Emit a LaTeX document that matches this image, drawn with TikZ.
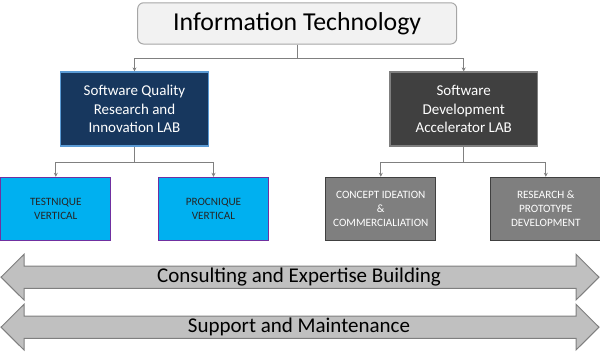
\documentclass[tikz,border=0pt]{standalone}
\usepackage{fontspec}
\setmainfont{Carlito}
\definecolor{ITGray}{HTML}{F2F2F2}
\definecolor{LabNavy}{HTML}{17375E}
\definecolor{LabEdge}{HTML}{5B9BD5}
\definecolor{DevDark}{HTML}{404040}
\definecolor{VertCyan}{HTML}{00B0F0}
\definecolor{VertEdge}{HTML}{7030A0}
\definecolor{UnitGray}{HTML}{7F7F7F}
\definecolor{BandGray}{HTML}{C0C0C0}
\usetikzlibrary{positioning, arrows.meta, calc}

\begin{document}
\begin{tikzpicture}[
  x=1pt, y=-1pt,
  topbox/.style={draw=black!35, line width=1pt, rounded corners=6pt,
    fill=ITGray, minimum width=319pt, minimum height=41.3pt, inner sep=0pt,
    font=\fontsize{25.8}{30}\selectfont},
  labbox/.style={draw, line width=1.2pt, minimum width=147.5pt,
    minimum height=74pt, inner sep=0pt, align=center, text=white,
    font=\fontsize{15}{18.3}\selectfont},
  unitbox/.style={draw, line width=1pt, minimum width=109.7pt,
    minimum height=63pt, inner sep=0pt, align=center,
    font=\fontsize{11.2}{14.3}\selectfont},
  conn/.style={-{Stealth[length=4pt, width=4pt]}, gray, line width=0.8pt},
  band/.style={draw=UnitGray, line width=1pt, fill=BandGray},
  bandtext/.style={font=\fontsize{21}{24}\selectfont, inner sep=0pt},
]
  \useasboundingbox (0,0) rectangle (600,351);

  \node[topbox] (it) at (297.2, 23.4) {Information Technology};

  \node[labbox, draw=LabEdge, fill=LabNavy] (sqr) at (134.5, 109)
    {Software Quality\\Research and\\Innovation LAB};
  \node[labbox, draw=UnitGray, fill=DevDark] (sda) at (463.7, 109)
    {Software\\Development\\Accelerator LAB};

  \node[unitbox, draw=VertEdge, fill=VertCyan, text=black!85] (tv) at (55.8, 208.8)
    {TESTNIQUE\\VERTICAL};
  \node[unitbox, draw=VertEdge, fill=VertCyan, text=black!85, right=47pt of tv] (pv)
    {PROCNIQUE\\VERTICAL};
  \node[unitbox, draw=DevDark, fill=UnitGray, text=white] (ci) at (380.8, 208.8)
    {CONCEPT IDEATION\\\&\\COMMERCIALIATION};
  \node[unitbox, draw=DevDark, fill=UnitGray, text=white, right=54.3pt of ci] (rp)
    {RESEARCH \&\\PROTOTYPE\\DEVELOPMENT};

  \draw[conn] (it.south) -- ++(0,14.3) -| (sqr.north);
  \draw[conn] (it.south) -- ++(0,14.3) -| (sda.north);
  \draw[conn] (sqr.south) -- ++(0,15.7) -| (tv.north);
  \draw[conn] (sqr.south) -- ++(0,15.7) -| (pv.north);
  \draw[conn] (sda.south) -- ++(0,15.7) -| (ci.north);
  \draw[conn] (sda.south) -- ++(0,15.7) -| (rp.north);

  % bands
  \draw[band] (1,277.2) -- (24,254.3) -- (24,266) -- (576,266) -- (576,254.3)
    -- (599,277.2) -- (576,300) -- (576,288.3) -- (24,288.3) -- (24,300) -- cycle;
  \node[bandtext] (cons) at (299,277.2) {Consulting and Expertise Building};

  \draw[band] (1,327.2) -- (24,304.3) -- (24,316) -- (576,316) -- (576,304.3)
    -- (599,327.2) -- (576,350) -- (576,338.3) -- (24,338.3) -- (24,350) -- cycle;
  \node[bandtext] (supp) at (299,327.2) {Support and Maintenance};
\end{tikzpicture}
\end{document}
